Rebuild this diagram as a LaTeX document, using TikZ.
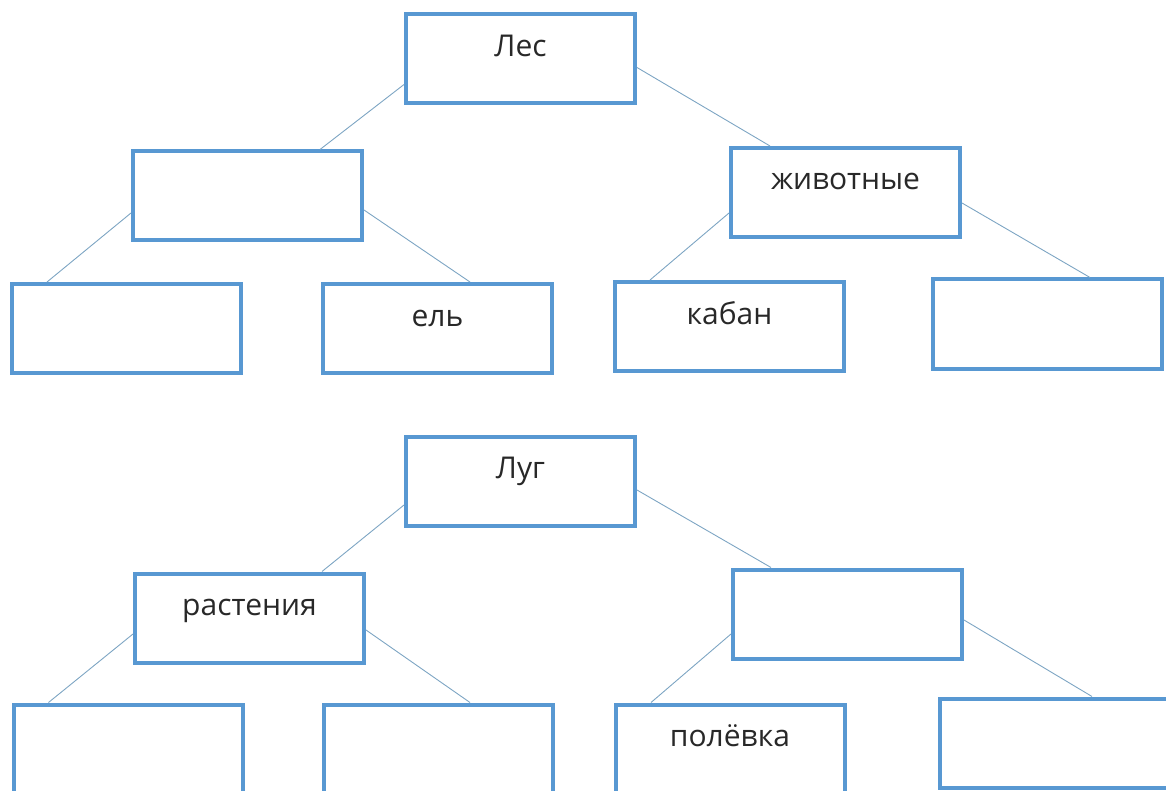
\documentclass[tikz,border=0pt]{standalone}
\usepackage{fontspec}
\setmainfont{Open Sans}
\definecolor{boxblue}{RGB}{88,152,210}
\definecolor{linkblue}{RGB}{125,165,195}
\definecolor{txtgray}{RGB}{40,40,40}
\tikzset{
  box/.style={draw=boxblue, line width=4pt, fill=white, rectangle,
    minimum width=229pt, minimum height=89pt, inner sep=0pt,
    text height=21pt, text depth=26pt, text=txtgray,
    font=\fontsize{30}{34}\selectfont},
  link/.style={draw=linkblue, line width=0.9pt}
}
\begin{document}
\begin{tikzpicture}[x=1pt,y=1pt]
\useasboundingbox (0,0) rectangle (1166,-791);
% top tree
\node[box] (les)  at (520.5,-59) {Лес};
\node[box] (ml)   at (247.5,-196) {};
\node[box] (zhiv) at (845.5,-192.5) {животные};
\node[box] (b1)   at (126.5,-328.5) {};
\node[box] (el)   at (437.5,-328.5) {ель};
\node[box] (kab)  at (729.5,-326.5) {кабан};
\node[box] (b4)   at (1047.5,-324) {};
% bottom tree
\node[box] (lug)  at (520.5,-481) {Луг};
\node[box] (ras)  at (249.5,-618) {растения};
\node[box] (rm)   at (847.5,-614) {};
\node[box] (c1)   at (128,-749) {};
\node[box] (c2)   at (438,-749) {};
\node[box] (pol)  at (730,-749) {полёвка};
\node[box] (c4)   at (1054,-743) {};
% connectors
\draw[link] ([yshift=-25.5pt]les.west) -- ([xshift=72.5pt]ml.north);
\draw[link] ([yshift=-8.5pt]les.east) -- ([xshift=-75.5pt]zhiv.north);
\draw[link] ([yshift=-17pt]ml.west) -- ([xshift=-79.5pt]b1.north);
\draw[link] ([yshift=-14pt]ml.east) -- ([xshift=32.5pt]el.north);
\draw[link] ([yshift=-20.5pt]zhiv.west) -- ([xshift=-79.5pt]kab.north);
\draw[link] ([yshift=-10.5pt]zhiv.east) -- ([xshift=42.5pt]b4.north);
\draw[link] ([yshift=-24pt]lug.west) -- ([xshift=72.5pt]ras.north);
\draw[link] ([yshift=-9pt]lug.east) -- ([xshift=-76.5pt]rm.north);
\draw[link] ([yshift=-16pt]ras.west) -- ([xshift=-79.5pt]c1.north);
\draw[link] ([yshift=-12pt]ras.east) -- ([xshift=32pt]c2.north);
\draw[link] ([yshift=-20pt]rm.west) -- ([xshift=-79pt]pol.north);
\draw[link] ([yshift=-6pt]rm.east) -- ([xshift=38pt]c4.north);
\end{tikzpicture}
\end{document}
